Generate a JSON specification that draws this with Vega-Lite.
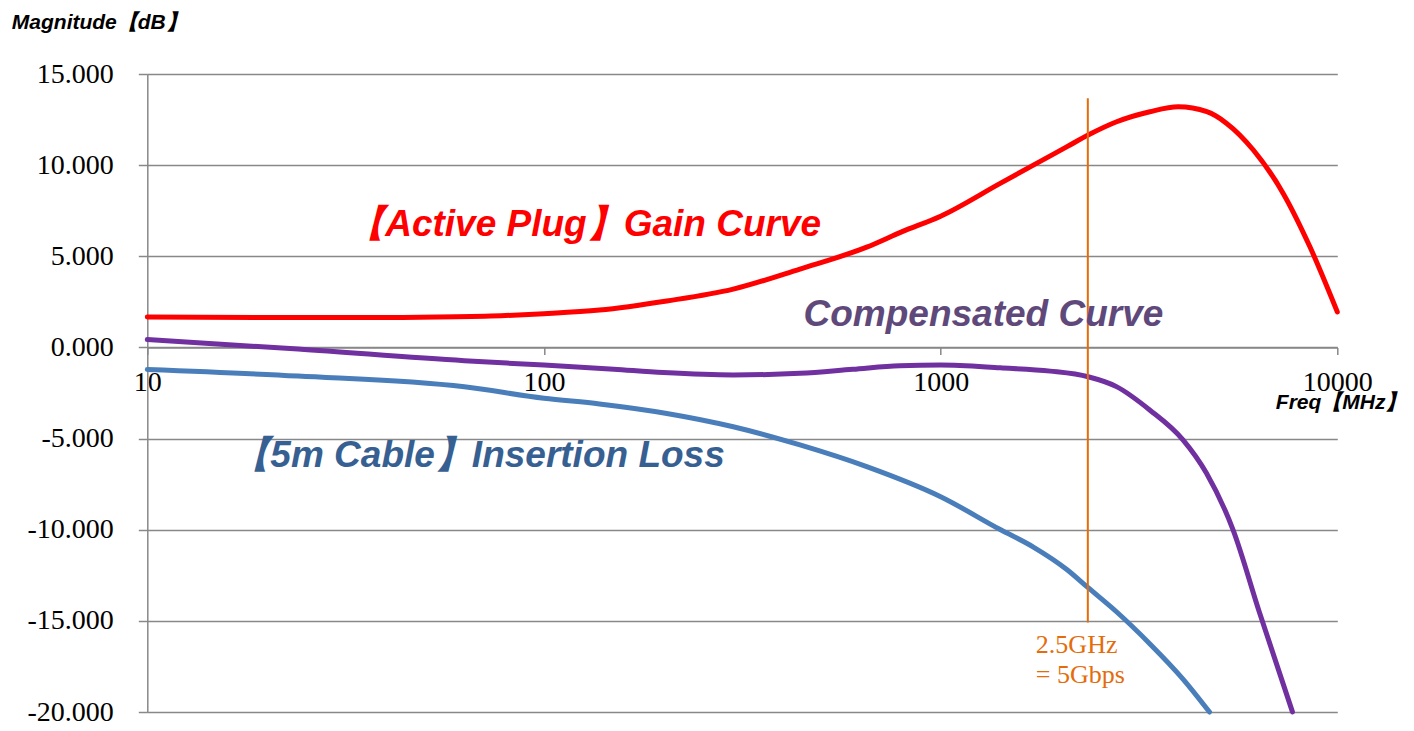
{
  "$schema": "https://vega.github.io/schema/vega-lite/v6.json",
  "autosize": {"type": "none"},
  "width": 1190,
  "height": 638,
  "padding": {"left": 147.3, "top": 74, "right": 76.7, "bottom": 19},
  "background": "white",
  "config": {"view": {"stroke": null}},
  "datasets": {
    "curves": [
      {"series": "gain", "f": 10, "v": 1.67},
      {"series": "gain", "f": 20, "v": 1.64},
      {"series": "gain", "f": 40, "v": 1.64},
      {"series": "gain", "f": 60, "v": 1.68},
      {"series": "gain", "f": 80, "v": 1.75},
      {"series": "gain", "f": 100, "v": 1.85},
      {"series": "gain", "f": 138, "v": 2.05},
      {"series": "gain", "f": 204, "v": 2.55},
      {"series": "gain", "f": 300, "v": 3.2},
      {"series": "gain", "f": 442, "v": 4.3},
      {"series": "gain", "f": 651, "v": 5.5},
      {"series": "gain", "f": 800, "v": 6.35},
      {"series": "gain", "f": 1000, "v": 7.2},
      {"series": "gain", "f": 1413, "v": 9.0},
      {"series": "gain", "f": 1713, "v": 10.0},
      {"series": "gain", "f": 2078, "v": 11.0},
      {"series": "gain", "f": 2354, "v": 11.65},
      {"series": "gain", "f": 2778, "v": 12.38},
      {"series": "gain", "f": 3370, "v": 12.93},
      {"series": "gain", "f": 3972, "v": 13.2},
      {"series": "gain", "f": 4690, "v": 12.93},
      {"series": "gain", "f": 5262, "v": 12.29},
      {"series": "gain", "f": 6142, "v": 10.83},
      {"series": "gain", "f": 7305, "v": 8.45},
      {"series": "gain", "f": 8530, "v": 5.52},
      {"series": "gain", "f": 10000, "v": 1.95},
      {"series": "comp", "f": 10, "v": 0.43},
      {"series": "comp", "f": 24, "v": -0.09},
      {"series": "comp", "f": 63, "v": -0.73},
      {"series": "comp", "f": 100, "v": -0.97},
      {"series": "comp", "f": 150, "v": -1.2},
      {"series": "comp", "f": 200, "v": -1.38},
      {"series": "comp", "f": 300, "v": -1.51},
      {"series": "comp", "f": 442, "v": -1.42},
      {"series": "comp", "f": 600, "v": -1.2},
      {"series": "comp", "f": 789, "v": -1.0},
      {"series": "comp", "f": 1000, "v": -0.97},
      {"series": "comp", "f": 1413, "v": -1.12},
      {"series": "comp", "f": 1890, "v": -1.3},
      {"series": "comp", "f": 2354, "v": -1.61},
      {"series": "comp", "f": 2775, "v": -2.15},
      {"series": "comp", "f": 3366, "v": -3.43},
      {"series": "comp", "f": 4083, "v": -5.07},
      {"series": "comp", "f": 4677, "v": -6.89},
      {"series": "comp", "f": 5457, "v": -9.99},
      {"series": "comp", "f": 6365, "v": -14.54},
      {"series": "comp", "f": 7709, "v": -20.0},
      {"series": "cable", "f": 10, "v": -1.21},
      {"series": "cable", "f": 24, "v": -1.57},
      {"series": "cable", "f": 63, "v": -2.16},
      {"series": "cable", "f": 100, "v": -2.79},
      {"series": "cable", "f": 138, "v": -3.1},
      {"series": "cable", "f": 204, "v": -3.62},
      {"series": "cable", "f": 300, "v": -4.35},
      {"series": "cable", "f": 442, "v": -5.35},
      {"series": "cable", "f": 651, "v": -6.54},
      {"series": "cable", "f": 1000, "v": -8.19},
      {"series": "cable", "f": 1413, "v": -9.99},
      {"series": "cable", "f": 1713, "v": -10.95},
      {"series": "cable", "f": 2080, "v": -12.18},
      {"series": "cable", "f": 2354, "v": -13.18},
      {"series": "cable", "f": 2775, "v": -14.5},
      {"series": "cable", "f": 3366, "v": -16.25},
      {"series": "cable", "f": 4083, "v": -18.19},
      {"series": "cable", "f": 4763, "v": -20.0}
    ],
    "marker": [{"f": 2350, "v": 13.67, "v2": -15.09}],
    "gainLabel": [{"label": "【Active Plug】Gain Curve", "f": 126.6, "v": 6.11}],
    "compLabel": [{"label": "Compensated Curve", "f": 1282, "v": 1.17}],
    "cableLabel": [{"label": "【5m Cable】Insertion Loss", "f": 68.6, "v": -6.56}],
    "markerLabel": [
      {"label": "2.5GHz", "f": 1738, "v": -16.76},
      {"label": "= 5Gbps", "f": 1738, "v": -18.41}
    ]
  },
  "encoding": {
    "x": {
      "field": "f",
      "type": "quantitative",
      "scale": {"type": "log", "domain": [10, 10000], "nice": false},
      "axis": {
        "orient": "bottom",
        "offset": -364.57,
        "values": [10, 100, 1000, 10000],
        "format": "d",
        "grid": false,
        "domainColor": "#888888",
        "domainWidth": 1.5,
        "tickColor": "#888888",
        "tickWidth": 1.5,
        "tickSize": 7,
        "labelFont": "Liberation Serif",
        "labelFontSize": 28,
        "labelColor": "#000000",
        "labelPadding": 14,
        "labelFlush": false,
        "labelOverlap": false,
        "title": "Freq【MHz】",
        "titleFont": "Liberation Sans",
        "titleFontSize": 21,
        "titleFontWeight": "bold",
        "titleFontStyle": "italic",
        "titleColor": "#000000",
        "titleAlign": "left",
        "titleBaseline": "alphabetic",
        "titleAnchor": "start",
        "titleX": 1128,
        "titleY": 61
      }
    },
    "y": {
      "field": "v",
      "type": "quantitative",
      "scale": {"domain": [-20, 15], "nice": false, "zero": false},
      "axis": {
        "orient": "left",
        "values": [-20, -15, -10, -5, 0, 5, 10, 15],
        "labelExpr": "replace(format(datum.value, '.3f'), '\u2212', '-')",
        "grid": true,
        "gridColor": "#888888",
        "gridWidth": 1.5,
        "domainColor": "#888888",
        "domainWidth": 1.5,
        "tickColor": "#888888",
        "tickWidth": 1.5,
        "tickSize": 9,
        "labelFont": "Liberation Serif",
        "labelFontSize": 28,
        "labelColor": "#000000",
        "labelPadding": 25,
        "labelFlush": false,
        "labelOverlap": false,
        "title": "Magnitude【dB】",
        "titleFont": "Liberation Sans",
        "titleFontSize": 21,
        "titleFontWeight": "bold",
        "titleFontStyle": "italic",
        "titleColor": "#000000",
        "titleAngle": 0,
        "titleAlign": "left",
        "titleBaseline": "alphabetic",
        "titleX": -136,
        "titleY": -46
      }
    }
  },
  "layer": [
    {
      "data": {"name": "curves"},
      "mark": {"type": "line", "interpolate": "monotone", "strokeWidth": 5, "strokeCap": "round"},
      "encoding": {
        "color": {
          "field": "series",
          "type": "nominal",
          "scale": {"domain": ["gain", "comp", "cable"], "range": ["#ff0000", "#7030a0", "#4a7ebb"]},
          "legend": null
        }
      }
    },
    {
      "data": {"name": "marker"},
      "mark": {"type": "rule", "color": "#e46c0a", "strokeWidth": 2},
      "encoding": {"y2": {"field": "v2"}}
    },
    {
      "data": {"name": "gainLabel"},
      "mark": {"type": "text", "align": "center", "baseline": "alphabetic", "font": "Liberation Sans", "fontSize": 37, "fontWeight": "bold", "fontStyle": "italic", "color": "#ff0000"},
      "encoding": {"text": {"field": "label"}}
    },
    {
      "data": {"name": "compLabel"},
      "mark": {"type": "text", "align": "center", "baseline": "alphabetic", "font": "Liberation Sans", "fontSize": 37, "fontWeight": "bold", "fontStyle": "italic", "color": "#5f497a"},
      "encoding": {"text": {"field": "label"}}
    },
    {
      "data": {"name": "cableLabel"},
      "mark": {"type": "text", "align": "center", "baseline": "alphabetic", "font": "Liberation Sans", "fontSize": 37, "fontWeight": "bold", "fontStyle": "italic", "color": "#376092"},
      "encoding": {"text": {"field": "label"}}
    },
    {
      "data": {"name": "markerLabel"},
      "mark": {"type": "text", "align": "left", "baseline": "alphabetic", "font": "Liberation Serif", "fontSize": 26, "color": "#e46c0a"},
      "encoding": {"text": {"field": "label"}}
    }
  ]
}
